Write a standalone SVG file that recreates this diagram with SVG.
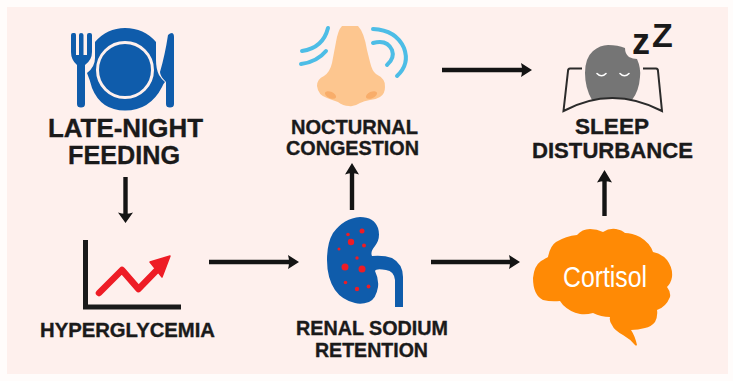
<svg xmlns="http://www.w3.org/2000/svg" width="733" height="381" viewBox="0 0 733 381">
<defs>
<style>
.lbl{font-family:"Liberation Sans",Arial,sans-serif;font-weight:700;fill:#1a1a1a;stroke:#1a1a1a;stroke-width:.35;text-anchor:middle}
.zz{font-family:"Liberation Sans",Arial,sans-serif;font-weight:700;fill:#1a1a1a}
.conn{stroke:#141414;stroke-width:4.400;fill:none}
.head{fill:#141414}
.air{stroke:#4dbde6;stroke-width:4;fill:none;stroke-linecap:round}
.salt{fill:#ee1c25}
.blue{fill:#0f5cab}
</style>
</defs>
<rect width="733" height="381" fill="#fffcfb"/>
<rect x="7" y="7" width="721" height="367" fill="#fef0ed"/>

<g id="connectors">
<path class="conn" d="M125.500 177V215"/><path class="head" d="M118 212.500Q125.500 215 133 212.500L125.500 223Z"/>
<path class="conn" d="M209 262H290"/><path class="head" d="M288 255Q290 262 288 269L299 262Z"/>
<path class="conn" d="M352 210V172"/><path class="head" d="M345 174.500Q352 172 359 174.500L352 163Z"/>
<path class="conn" d="M431 262H511"/><path class="head" d="M509 255Q511 262 509 269L520 262Z"/>
<path class="conn" d="M442 70H523"/><path class="head" d="M521 63Q523 70 521 77L532 70Z"/>
<path class="conn" d="M604.500 216V180"/><path class="head" d="M597 182.500Q604.500 180 612 182.500L604.500 170Z"/>
</g>

<g id="late-night-feeding">
<path class="blue" d="M71 35Q71 33 73 33H74.500Q76 33 76 35V55H79V35Q79 33 81 33Q83.500 33 83.500 35V55H87V35Q87 33 89 33H90Q92 33 92 35V52Q92 60 85 65V104Q85 107.500 81 107.500Q77 107.500 77 104V65Q71 60 71 52Z"/>
<path class="blue" d="M95 42Q107 28 125 28Q144 28 156 42V60Q156 69 159 75Q162 80 165 82Q163 84 162 87Q150 110.500 125 110.500Q101 110.500 92 88Q90 80 87 73Q95 67 95 58Z"/>
<circle cx="125" cy="70" r="27.500" class="blue" stroke="#fef0ed" stroke-width="3"/>
<path class="blue" d="M168 35Q170 33 172 33Q174 33.500 174 37V104Q174 107.500 170 107.500Q166 107.500 166 104V82Q160 76 160 72Q165 55 168 35Z"/>
<text class="lbl" x="125.500" y="137" font-size="25.500" textLength="155" lengthAdjust="spacingAndGlyphs">LATE-NIGHT</text>
<text class="lbl" x="124" y="164" font-size="25.500" textLength="112" lengthAdjust="spacingAndGlyphs">FEEDING</text>
</g>

<g id="hyperglycemia">
<path d="M85.500 240V307H181" fill="none" stroke="#1a1a1a" stroke-width="5"/>
<path d="M99 293L122 270L138.500 289L156 271" fill="none" stroke="#ee1c25" stroke-width="6.500" stroke-linecap="round" stroke-linejoin="round"/>
<path fill="#ee1c25" d="M150 262L170 256L162 277Z" stroke="#ee1c25" stroke-width="1.500" stroke-linejoin="round"/>
<text class="lbl" x="127.500" y="337" font-size="19.500" textLength="175" lengthAdjust="spacingAndGlyphs">HYPERGLYCEMIA</text>
</g>

<g id="nocturnal-congestion">
<path fill="#fdc68f" d="M342 26H358Q364 32 367 50L370 62Q372 71 376 74Q386 79 385 87Q385 94 380 97Q375 100 370 100Q364 101 360 103Q354 107 349 106Q343 106 338 102Q332 100 327 98Q318 95 317 86Q317 79 324 76Q330 72 332 63L336 42Q338 30 342 26Z"/>
<ellipse cx="330.500" cy="95" rx="6" ry="3.200" fill="#f8ad6a" transform="rotate(25 330.500 95)"/>
<ellipse cx="371.500" cy="95" rx="6" ry="3.200" fill="#f8ad6a" transform="rotate(-25 371.500 95)"/>
<path class="air" d="M302 51Q323 48 328 28"/>
<path class="air" d="M301 64Q317 62 326 51"/>
<path class="air" d="M373 29Q396 30 404 48Q410 64 397 76"/>
<path class="air" d="M373 43Q387 39 392 50Q395 58 387 65"/>
<text class="lbl" x="354.500" y="134" font-size="20" textLength="127" lengthAdjust="spacingAndGlyphs">NOCTURNAL</text>
<text class="lbl" x="352.500" y="155" font-size="20" textLength="133" lengthAdjust="spacingAndGlyphs">CONGESTION</text>
</g>

<g id="sleep-disturbance">
<path fill="#757575" d="M608 45Q618 45 625 48Q625 54 629 57Q633 59 637 59Q641 68 640 77Q639 91 632 100Q612 96 592 100Q585 88 585 73Q585 58 593 51Q600 45 608 45Z"/>
<path d="M597 73.500Q601.500 78 606 73.500M620 73.500Q624.500 78 629 73.500" fill="none" stroke="#ffffff" stroke-width="1.600" stroke-linecap="round"/>
<path d="M582 68.500H570Q568 68.500 568 71L563.500 111Q612 85 662 111L658 71Q658 68.500 656 68.500H643" fill="none" stroke="#2b2b2b" stroke-width="2"/>
<text class="zz" x="632" y="54" font-size="36">z</text>
<text class="zz" x="652" y="47" font-size="34">Z</text>
<text class="lbl" x="612" y="134" font-size="22.500" textLength="74" lengthAdjust="spacingAndGlyphs">SLEEP</text>
<text class="lbl" x="612.500" y="158" font-size="22.500" textLength="161" lengthAdjust="spacingAndGlyphs">DISTURBANCE</text>
</g>

<g id="renal-sodium-retention">
<path class="blue" d="M360 217Q374 217 378 228Q381 238 375 246Q370 252 372 256Q384 255 392 258Q403 264 403 277V307H395V280Q394 271 386 270Q376 268 375 271Q379 279 378 287Q376 299 369 302Q361 305 355 303Q342 300 335 290Q327 278 327 260Q327 243 333 233Q344 218 360 217Z"/>
<g class="salt">
<circle cx="362" cy="231" r="2.500"/><circle cx="348" cy="234.500" r="1.800"/><circle cx="351" cy="242" r="3.200"/><circle cx="364" cy="245.500" r="2"/><circle cx="339" cy="249" r="1.500"/><circle cx="357" cy="258" r="1.700"/><circle cx="345" cy="267" r="3.500"/><circle cx="362" cy="269" r="3.500"/><circle cx="345.500" cy="282.500" r="1.800"/><circle cx="357" cy="289" r="2.200"/><circle cx="368.500" cy="286.500" r="1.900"/>
</g>
<text class="lbl" x="372" y="335" font-size="19.500" textLength="152" lengthAdjust="spacingAndGlyphs">RENAL SODIUM</text>
<text class="lbl" x="371.500" y="356.500" font-size="19.500" textLength="113" lengthAdjust="spacingAndGlyphs">RETENTION</text>
</g>

<g id="cortisol">
<path fill="#ff8a05" d="M533 278Q534 266 541 261Q546 258 548 257Q550 246 556 242Q566 236 577 235Q582 229 590 229Q597 229 603 232Q609 228 616 229Q622 230 625 233Q632 233 640 237Q650 243 653 252Q662 254 667 260Q673 268 672 277Q671 283 667 287Q671 292 670 297Q666 307 657 310Q658 316 655 322Q651 327 645 328Q638 330 631 330Q635 336 637 345Q636 346 635 345Q630 339 623 335Q614 330 612 325Q609 321 610 317Q601 317 593 313Q586 315 580 314Q570 312 563 305L560 301Q551 302 543 300Q533 295 533 278Z"/>
<text x="605" y="287" font-family="Liberation Sans,Arial,sans-serif" font-size="30" fill="#ffffff" text-anchor="middle" textLength="84" lengthAdjust="spacingAndGlyphs">Cortisol</text>
</g>
</svg>
